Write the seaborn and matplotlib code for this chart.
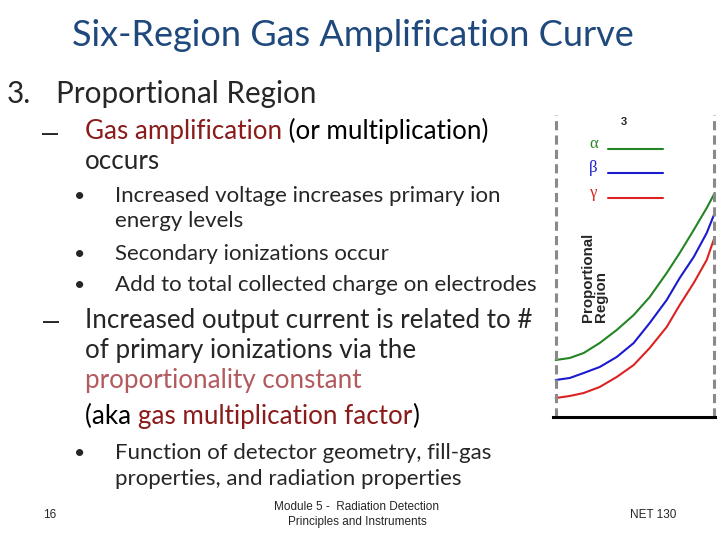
import pandas as pd
import matplotlib
matplotlib.use("Agg")
import matplotlib.pyplot as plt
from matplotlib.transforms import Affine2D
import seaborn as sns

# curve data: voltage step vs relative pulse height
voltage = [0, 14, 28, 44, 61, 78, 94, 111, 124, 138, 151, 159]
alpha_pulse = [57, 59, 64, 74, 87, 102, 120, 144, 164, 187, 209, 224]
beta_pulse = [37, 39, 44, 50, 60, 74, 94, 117, 139, 160, 184, 204]
gamma_pulse = [19, 21, 24, 30, 40, 52, 69, 90, 112, 134, 157, 180]
particles = ["\u03b1", "\u03b2", "\u03b3"]
particle_colors = ["#238523", "#1a1ad0", "#dd2222"]
region_edges = [0, 158.3]

sns.set_style("white")
plt.rcParams["font.family"] = ["Lato", "DejaVu Sans"]

W, H = 720, 540
fig = plt.figure(figsize=(7.2, 5.4), dpi=100)
renderer = fig.canvas.get_renderer()

TITLE = "#1F497D"
DARKRED = "#8B1A1A"
LIGHTRED = "#B25A5E"
L1, L2, L3 = 21.3, 18.7, 16


def rich(x, y, parts, size):
    # draw pieces of text one after another on the same baseline
    for s, c in parts:
        t = fig.text(x / W, 1 - y / H, s, color=c, fontsize=size, va="baseline", ha="left")
        x = t.get_window_extent(renderer).x1


def txt(x, y, s, size, **kw):
    fig.text(x / W, 1 - y / H, s, fontsize=size, **kw)


# title
txt(353, 46, "Six-Region Gas Amplification Curve", 26, color=TITLE, ha="center", va="baseline")

# level 1
txt(7, 103, "3.", L1, va="baseline")
txt(56, 103, "Proportional Region", L1, va="baseline")

# level 2, first block
txt(50.5, 142, "\u2013", 20.7, family="Liberation Sans", va="baseline", ha="center")
rich(85, 139, [("Gas amplification", DARKRED), (" (or multiplication)", "black")], L2)
txt(85, 169, "occurs", L2, va="baseline")

# level 3 bullets
for yy in [202, 260, 291]:
    txt(80, yy, "\u2022", L3 - 2, va="baseline", ha="center")
txt(115, 202, "Increased voltage increases primary ion", L3, va="baseline")
txt(115, 227, "energy levels", L3, va="baseline")
txt(115, 260, "Secondary ionizations occur", L3, va="baseline")
txt(115, 291, "Add to total collected charge on electrodes", L3, va="baseline")

# level 2, second block
txt(51, 330, "\u2013", 20.7, family="Liberation Sans", va="baseline", ha="center")
txt(85, 328, "Increased output current is related to #", L2, va="baseline")
txt(85, 358, "of primary ionizations via the", L2, va="baseline")
txt(85, 388, "proportionality constant", L2, va="baseline", color=LIGHTRED)
rich(85, 424, [("(aka ", "black"), ("gas multiplication factor", DARKRED), (")", "black")], L2)

txt(80, 459, "\u2022", L3 - 2, va="baseline", ha="center")
txt(115, 459, "Function of detector geometry, fill-gas", L3, va="baseline")
txt(115, 485, "properties, and radiation properties", L3, va="baseline")

# footer
foot = dict(family="Liberation Sans", ha="center", va="center")
txt(50, 515, "16", 8.5, **foot)
txt(357, 507, "Module 5 -  Radiation Detection", 8.5, **foot)
txt(357, 522, "Principles and Instruments", 8.5, **foot)
txt(653, 515, "NET 130", 8.5, **foot)

# chart on the right
ax = fig.add_axes([550 / W, 1 - 420 / H, 170 / W, 310 / H])
df = pd.DataFrame({
    "voltage": voltage * 3,
    "pulse": alpha_pulse + beta_pulse + gamma_pulse,
    "particle": [particles[0]] * len(voltage) + [particles[1]] * len(voltage) + [particles[2]] * len(voltage),
})
sns.lineplot(data=df, x="voltage", y="pulse", hue="particle", palette=particle_colors,
             linewidth=1.5, ax=ax)
ax.vlines(region_edges, 0, 302, colors="#8a8a8a", linewidth=2.2, linestyles=(0, (3, 1.7)))
ax.set_xlim(-5.7, 164.3)
ax.set_ylim(-3, 307)
ax.set_xticks([])
ax.set_yticks([])
ax.set_xlabel("")
ax.set_ylabel("")
sns.despine(ax=ax, left=True)
ax.spines["bottom"].set_position(("data", 0))
ax.spines["bottom"].set_bounds(-2.5, 159.5)
ax.spines["bottom"].set_linewidth(2.2)
ax.spines["bottom"].set_color("black")
ax.patch.set_alpha(0)

# legend: greek label on the left, line sitting a little lower on the right
leg = ax.legend(loc="upper left", bbox_to_anchor=(589 / W, 1 - 136 / H), bbox_transform=fig.transFigure,
                frameon=False, markerfirst=False, handlelength=3.3, handletextpad=0.6,
                labelspacing=0.5, borderpad=0, borderaxespad=0,
                prop={"family": "Liberation Serif", "size": 12}, labelcolor="linecolor")
for ln in leg.get_lines():
    ln.set_transform(ln.get_transform() + Affine2D().translate(0, -7))

fig.text(624 / W, 1 - 122 / H, "3", fontsize=8, fontweight="bold", family="Liberation Sans",
         ha="center", va="center")
fig.text(594.5 / W, 1 - 322 / H, "Proportional\nRegion", fontsize=10.8, fontweight="bold",
         family="Liberation Sans", rotation=90, ha="center", va="bottom", multialignment="left",
         linespacing=0.95)

fig.savefig("out.png", dpi=100)
